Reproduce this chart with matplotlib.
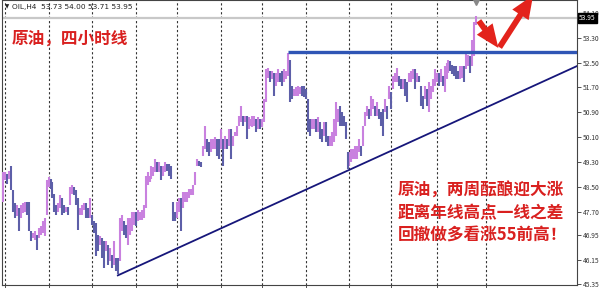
import numpy as np
import matplotlib.pyplot as plt
from matplotlib.patches import FancyArrowPatch

plt.rcParams['font.family'] = ['Noto Sans CJK SC', 'DejaVu Sans']

# OIL H4 bars (high / low per bar)
highs = [
    48.98, 48.98, 48.92, 49.02, 49.18, 48.38, 47.96, 47.90, 47.80, 47.90,
    47.96, 48.02, 48.02, 48.02, 47.06, 47.00, 47.06, 46.94, 47.16, 47.22,
    47.38, 47.48, 48.70, 48.82, 48.76, 48.66, 48.28, 47.90, 47.96, 48.22,
    48.12, 47.90, 47.86, 47.86, 48.50, 48.54, 48.50, 48.38, 48.12, 47.80,
    47.90, 47.96, 47.96, 47.80, 48.12, 47.58, 47.38, 47.32,
    46.94, 46.90, 46.84, 46.74, 46.74, 46.62, 46.52, 46.30, 46.74, 46.20,
    46.20, 47.48, 47.58, 47.38, 47.26, 47.48, 47.48, 47.70, 47.70, 47.70,
    47.74, 47.70, 47.74, 47.90, 48.86, 48.98, 48.86, 49.18, 49.14, 49.40,
    49.30, 49.30, 49.18, 49.18, 49.30, 49.24, 49.24, 49.18, 48.02, 47.70,
    48.02, 48.12, 48.12, 48.34, 48.34, 48.34, 48.44, 48.44,
    48.54, 48.98, 49.40, 49.34, 49.30, 49.82, 50.46, 50.04, 49.94, 50.04,
    50.04, 50.10, 50.04, 50.04, 50.36, 50.04, 50.14, 50.04, 50.36, 50.36,
    50.14, 50.26, 50.46, 50.78, 51.10, 50.78, 50.78, 50.78, 50.74, 50.68,
    50.78, 50.78, 50.68, 50.74, 50.68, 50.68, 51.32, 52.28, 52.34, 52.22,
    52.22, 52.18, 52.18, 52.28, 52.18, 52.22, 52.28,
    52.22, 52.82, 52.60, 51.74, 51.64, 51.70, 51.74, 51.70, 51.74, 51.74,
    51.64, 51.32, 50.68, 50.68, 50.68, 50.68, 50.74, 50.58, 50.36, 50.58,
    50.58, 50.14, 50.14, 50.26, 50.68, 51.22, 51.00, 51.10, 50.90, 50.78,
    50.58, 49.62, 49.62, 49.72, 49.72, 49.82, 49.82, 50.04, 49.82, 50.46,
    50.90, 51.10, 51.00, 51.42, 51.32, 51.10, 51.22, 51.00, 50.90,
    51.00, 51.32, 51.10, 51.74, 51.54, 52.06, 52.18, 52.34, 52.06, 51.96,
    51.96, 51.96, 51.86, 52.18, 52.22, 52.28, 52.28, 52.18, 52.06, 51.74,
    51.42, 51.74, 51.64, 51.86, 51.74, 51.96, 52.28, 52.18, 52.18, 52.28,
    52.06, 52.38, 52.50, 52.60, 52.54, 52.44, 52.38, 52.38, 52.22, 52.38,
    52.38, 52.38, 52.82, 52.76, 52.70, 53.24, 53.80, 54.00,
]
lows = [
    48.02, 48.70, 48.60, 48.76, 48.38, 47.70, 47.48, 47.54, 47.06, 47.48,
    47.64, 47.70, 47.58, 47.06, 46.74, 46.84, 46.78, 46.46, 46.84, 46.94,
    47.00, 46.90, 47.58, 48.50, 48.44, 48.12, 47.70, 47.58, 47.70, 47.80,
    47.58, 47.64, 47.70, 47.58, 47.90, 48.28, 48.22, 47.90, 47.10, 47.58,
    47.58, 47.74, 47.48, 47.48, 47.48, 47.26, 47.00, 46.26,
    46.42, 46.62, 46.20, 45.88, 46.42, 45.98, 46.10, 45.88, 45.98, 45.78,
    45.70, 46.10, 47.06, 46.94, 46.84, 46.62, 46.94, 47.06, 47.26, 47.22,
    47.38, 47.42, 47.42, 47.48, 47.80, 48.54, 48.66, 48.76, 48.86, 48.98,
    48.98, 48.98, 48.70, 48.86, 48.98, 49.02, 48.86, 48.76, 47.38, 47.38,
    47.48, 47.70, 47.06, 47.80, 48.02, 48.02, 48.12, 48.22,
    48.22, 48.54, 49.18, 49.18, 49.14, 49.50, 49.72, 49.62, 49.50, 49.62,
    49.72, 49.72, 49.50, 49.40, 49.72, 49.18, 49.72, 49.72, 49.82, 49.40,
    49.82, 50.14, 50.14, 50.46, 50.58, 50.46, 50.58, 50.04, 50.36, 50.46,
    50.42, 50.46, 50.26, 50.36, 50.36, 50.42, 50.58, 51.22, 52.02, 51.86,
    51.96, 51.42, 51.74, 51.86, 51.86, 51.74, 51.86,
    51.96, 52.06, 51.22, 51.32, 51.42, 51.42, 51.42, 51.48, 51.42, 51.38,
    51.32, 50.26, 50.14, 50.36, 50.36, 50.26, 50.26, 50.04, 49.94, 50.14,
    49.94, 49.82, 49.82, 49.82, 49.94, 50.14, 50.58, 50.46, 50.46, 50.46,
    50.04, 49.08, 49.18, 49.30, 49.40, 49.40, 49.40, 49.62, 49.50, 49.82,
    50.46, 50.78, 50.68, 50.78, 51.00, 50.78, 50.78, 50.68, 50.46,
    50.14, 50.90, 50.68, 51.32, 51.00, 51.64, 51.86, 51.86, 51.74, 51.64,
    51.64, 51.42, 51.22, 51.86, 51.86, 51.96, 51.64, 51.86, 51.86, 51.10,
    51.00, 51.32, 51.10, 50.90, 51.32, 51.54, 51.74, 51.86, 51.74, 51.86,
    51.74, 51.54, 51.96, 52.18, 52.22, 52.12, 52.06, 51.96, 51.96, 51.96,
    52.02, 51.86, 52.28, 52.38, 52.18, 52.38, 52.70, 53.71,
]

header = "OIL,H4  53.73 54.00 53.71 53.95"
last_price = 53.95
resistance = 52.84
trend_start, trend_end = 45.64, 52.39
price_ticks = [54.10, 53.30, 52.50, 51.70, 50.90, 50.10, 49.30, 48.50, 47.70, 46.95, 46.15, 45.35]
grid_bars = [1, 23, 45, 67, 88, 110, 131, 153, 175, 196, 219, 244]

title_txt = "原油，四小时线"
note_lines = ["原油，两周酝酿迎大涨", "距离年线高点一线之差", "回撤做多看涨55前高！"]

highs = np.array(highs)
lows = np.array(lows)
n = len(highs)
idx = np.arange(n)
mid = (highs + lows) / 2
up = np.r_[True, mid[1:] >= mid[:-1]]

fig = plt.figure(figsize=(6, 2.88), dpi=100)
ax = fig.add_axes([2 / 600, 3 / 288, 575 / 600, 285 / 288])
ax.set_xlim(-0.5, 289.9)
ax.set_ylim(45.33, 54.52)

for g in grid_bars:
    ax.axvline(g, color='#333333', lw=0.8, ls=(0, (2, 2)), zorder=1)

ax.axhline(last_price, color='#c8c8c8', lw=1.6, zorder=1)

ax.vlines(idx[up], lows[up], highs[up], color='#c981df', lw=1.5, zorder=3)
ax.vlines(idx[~up], lows[~up], highs[~up], color='#5d5fa8', lw=1.5, zorder=3)

# resistance and rising trendline
ax.plot([144, 289.9], [resistance, resistance], color='#2f55b5', lw=2.4, zorder=4,
        solid_capstyle='butt')
low_i = int(np.argmin(lows))
ax.plot([low_i, 289.9], [trend_start, trend_end], color='#16167a', lw=1.3, zorder=4)

# red arrows: pullback then up
style = 'simple,tail_width=0.3,head_width=1.0,head_length=1.2'
a1 = FancyArrowPatch((239.5, 53.92), (251.0, 52.90), arrowstyle=style,
                     mutation_scale=14, color='#e3231c', lw=0, zorder=6, clip_on=False)
a2 = FancyArrowPatch((250.0, 52.92), (268.5, 54.75), arrowstyle=style,
                     mutation_scale=14, color='#e3231c', lw=0, zorder=6, clip_on=False)
ax.add_patch(a1)
ax.add_patch(a2)

# marker at top of last bar
ax.plot([n - 1], [54.45], marker='v', color='#888888', ms=5, zorder=5, clip_on=False)

# right price scale
ax.yaxis.tick_right()
ax.set_yticks(price_ticks)
ax.set_yticklabels([f"{p:.2f}" for p in price_ticks])
ax.tick_params(axis='y', labelsize=4.8, colors='#333333', length=3, width=0.6, pad=1)
ax.set_xticks(grid_bars)
ax.set_xticklabels([])
ax.tick_params(axis='x', length=3, width=0.6, colors='#333333', direction='out')
for s in ax.spines.values():
    s.set_color('#444444')
    s.set_linewidth(0.8)

ax.text(291.0, last_price, f"{last_price:.2f}", fontsize=4.8, color='white',
        va='center', ha='left', clip_on=False, zorder=7,
        bbox=dict(boxstyle='square,pad=0.15', fc='black', ec='black'))

fig.text(5 / 600, 1 - 7 / 288, "▼", fontsize=4, color='#222222', va='center',
         family='DejaVu Sans')
fig.text(12 / 600, 1 - 7.5 / 288, header, fontsize=5.3, color='#222222', va='center',
         family='DejaVu Sans')

fig.text(12 / 600, 1 - 39 / 288, title_txt, fontsize=12, color='#d9201f',
         fontweight='bold', va='center')
for k, line in enumerate(note_lines):
    fig.text(398 / 600, 1 - (191 + 22 * k) / 288, line, fontsize=12, color='#d9201f',
             fontweight='bold', va='center')

fig.savefig('out.png', dpi=100, facecolor='white')
